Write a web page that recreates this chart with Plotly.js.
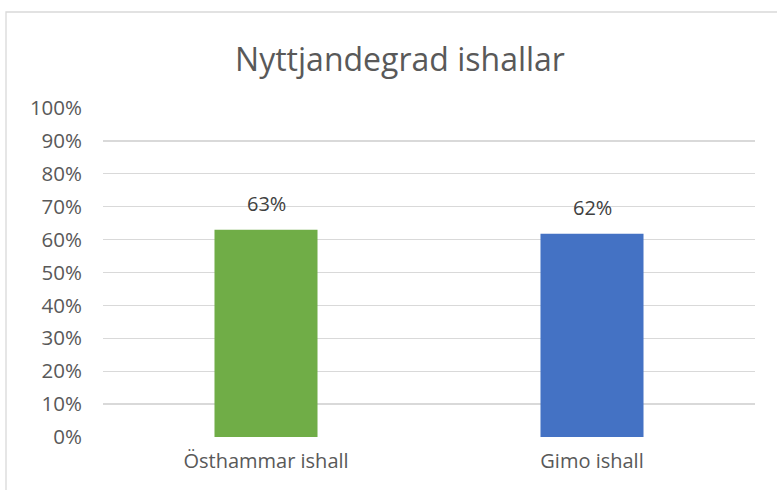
<!DOCTYPE html>
<html>
<head>
<meta charset="utf-8">
<script src="https://cdn.plot.ly/plotly-3.0.1.min.js"></script>
<style>html,body{margin:0;padding:0;background:#fff;}</style>
</head>
<body>
<div id="chart" style="width:777px;height:490px;"></div>
<script>
const categories = ["Östhammar ishall", "Gimo ishall"];
const values = [0.63, 0.618];
const barColors = ["#70AD47", "#4472C4"];
const chartTitle = "Nyttjandegrad ishallar";

const textColor = "#595959";
const font = "'Open Sans', 'Noto Sans', sans-serif";

const trace = {
  type: "bar",
  x: categories,
  y: values,
  marker: { color: barColors },
  width: 0.316,
  hoverinfo: "skip"
};

const annotations = categories.map((c, i) => ({
  x: c, y: values[i], xref: "x", yref: "y",
  text: Math.round(values[i] * 100) + "%",
  showarrow: false, yanchor: "bottom", yshift: 11,
  font: { family: font, size: 20, color: "#404040" }
}));

const W = 777, H = 490, L = 103, R = 22, T = 108, B = 53;
const pw = W - L - R, ph = H - T - B;
const frame = {
  type: "rect", xref: "paper", yref: "paper",
  x0: (6 - L) / pw, x1: (790 - L) / pw,
  y0: -(500 - T - ph) / ph, y1: (H - 12 - B) / ph,
  line: { color: "#D9D9D9", width: 1.3 }, fillcolor: "rgba(0,0,0,0)", layer: "below"
};

const layout = {
  width: W, height: H,
  margin: { l: L, r: R, t: T, b: B, pad: 0 },
  paper_bgcolor: "#ffffff", plot_bgcolor: "#ffffff",
  showlegend: false,
  title: {
    text: chartTitle, x: 400 / W, xref: "container", y: 1 - 60 / H, yref: "container",
    xanchor: "center", yanchor: "middle",
    font: { family: font, size: 32, color: textColor }
  },
  xaxis: {
    showgrid: false, zeroline: false, showline: false, ticks: "",
    tickfont: { family: font, size: 20, color: textColor },
    ticklabelstandoff: 10, fixedrange: true
  },
  yaxis: {
    range: [0, 1], dtick: 0.1, tick0: 0, tickformat: ".0%",
    showgrid: true, gridcolor: "#D9D9D9", gridwidth: 1.3,
    zeroline: false, showline: false, ticks: "",
    tickfont: { family: font, size: 20.5, color: textColor },
    ticklabelstandoff: 20, fixedrange: true
  },
  shapes: [frame],
  annotations: annotations
};

Plotly.newPlot("chart", [trace], layout, { displayModeBar: false, staticPlot: true });
</script>
</body>
</html>
